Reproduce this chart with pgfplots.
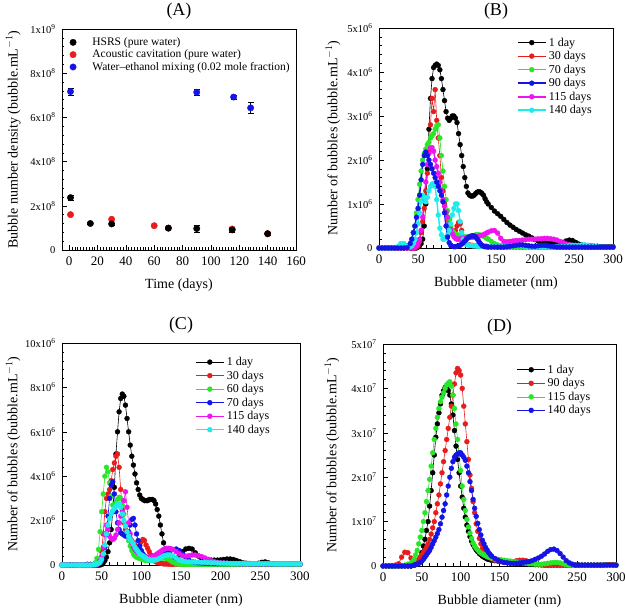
\documentclass[border=0pt]{standalone}
\usepackage{fontspec}
\setmainfont{Liberation Serif}
\usepackage{pgfplots}
\usepackage{pgfplotstable}
\pgfplotsset{compat=1.18}
\definecolor{cK}{RGB}{0,0,0}
\definecolor{cR}{RGB}{232,28,28}
\definecolor{cG}{RGB}{40,230,40}
\definecolor{cB}{RGB}{20,20,230}
\definecolor{cM}{RGB}{238,20,238}
\definecolor{cC}{RGB}{30,235,235}
\pgfplotsset{
 myaxis/.style={
  scale only axis,
  tick align=inside,
  xtick pos=bottom, ytick pos=left,
  major tick length=5pt, minor tick length=2.5pt,
  every tick/.style={black, line width=0.5pt},
  axis line style={line width=0.6pt},
  xticklabel style={font=\fontsize{13}{15}\selectfont, yshift=-3pt},
  yticklabel style={font=\fontsize{10.5}{12}\selectfont, xshift=-3pt},
  label style={font=\fontsize{14}{16}\selectfont},
  every axis title/.style={at={(0.5,1)}, anchor=base, yshift=13pt, font=\fontsize{18}{20}\selectfont},
  xlabel style={at={(axis description cs:0.5,0)}, anchor=base, yshift=-39pt},
  /pgf/number format/assume math mode=true,
  legend cell align=left,
  legend style={draw=none, fill=none, font=\fontsize{12}{13}\selectfont, row sep=-0.3pt},
 },
 ser/.style={color=#1, mark=*, mark size=2.5pt, line width=0.6pt, mark options={fill=#1, draw=#1, line width=0.3pt}},
 legline/.style={legend image code/.code={\draw[mark repeat=2,mark phase=2,##1] plot coordinates {(0cm,0cm) (0.5cm,0cm) (1cm,0cm)};}},
 legdot/.style={legend image code/.code={\path (0cm,0cm) (0.7cm,0cm); \draw[##1] plot coordinates {(0.1cm,0cm)};}},
}
\pgfplotstableread{
x k r g b m c
0 0 0 0 0 0 0
4 0 0 0 0 0 0
8 0 0 0 0 0 0
12 0 0 0 0 0 0
16 0 0 0 0 0 0
20 0 0 0 0 0 0.01
24 0 0 0 0 0 0.03
28 0 0 0 0 0 0.1
32 0 0 0 0 0 0.1
36 0 0 0.01 0.01 0 0.05
40 0 0 0.1 0.1 0 0.03
42 0 0 0.2 0.2 0 0.05
44 0 0 0.35 0.35 0 0.1
46 0 0 0.5 0.5 0.02 0.2
48 0 0.02 0.8 0.7 0.05 0.35
50 0.02 0.05 1.1 0.9 0.1 0.55
52 0.05 0.15 1.45 1.2 0.2 0.8
54 0.1 0.35 1.75 1.55 0.4 1.05
56 0.2 0.6 2.0 1.9 0.7 1.2
58 0.5 0.9 2.15 2.1 1.1 1.15
60 1.0 1.3 2.25 2.18 1.5 1.05
62 1.8 1.7 2.35 2.1 1.9 1.15
64 2.7 2.2 2.4 2.0 2.15 1.3
66 3.4 2.8 2.5 1.9 2.27 1.4
68 3.85 3.4 2.55 1.8 2.28 1.45
70 4.1 3.1 2.6 1.7 2.2 1.47
72 4.15 3.6 2.7 1.6 2.0 1.4
74 4.18 2.9 2.78 1.5 1.85 1.1
76 4.15 2.5 2.8 1.4 1.7 0.75
78 4.05 2.1 2.5 1.3 1.5 0.45
80 3.85 1.6 2.1 1.2 1.3 0.3
82 3.6 1.3 1.75 1.05 1.1 0.2
84 3.35 1.0 1.4 0.8 0.95 0.2
86 3.1 0.8 1.1 0.5 0.82 0.25
88 2.95 0.65 0.85 0.25 0.7 0.3
90 2.9 0.55 0.65 0.12 0.55 0.4
92 2.95 0.45 0.5 0.06 0.42 0.55
94 3.0 0.4 0.4 0.04 0.32 0.75
96 3.0 0.35 0.35 0.03 0.26 0.9
98 2.95 0.4 0.3 0.03 0.22 1.0
100 2.85 0.5 0.3 0.04 0.2 1.0
102 2.6 0.58 0.29 0.05 0.2 0.85
104 2.35 0.55 0.28 0.06 0.2 0.6
106 2.1 0.4 0.27 0.09 0.21 0.35
108 1.85 0.25 0.25 0.12 0.22 0.2
110 1.6 0.15 0.25 0.16 0.22 0.12
112 1.4 0.1 0.25 0.2 0.23 0.08
114 1.25 0.08 0.25 0.23 0.23 0.07
116 1.2 0.07 0.25 0.26 0.24 0.06
118 1.18 0.06 0.26 0.27 0.24 0.06
120 1.18 0.06 0.27 0.28 0.25 0.05
122 1.2 0.05 0.28 0.27 0.25 0.05
124 1.24 0.05 0.3 0.25 0.26 0.05
126 1.27 0.05 0.3 0.2 0.26 0.04
128 1.28 0.05 0.3 0.15 0.27 0.04
130 1.27 0.05 0.29 0.1 0.28 0.04
132 1.24 0.04 0.28 0.06 0.29 0.04
134 1.2 0.04 0.27 0.04 0.3 0.03
136 1.12 0.04 0.25 0.03 0.32 0.03
138 1.05 0.04 0.22 0.03 0.34 0.03
140 1.0 0.03 0.2 0.02 0.36 0.03
144 0.92 0.03 0.15 0.02 0.39 0.03
148 0.84 0.03 0.1 0.02 0.4 0.03
152 0.78 0.02 0.07 0.02 0.34 0.03
156 0.72 0.02 0.05 0.02 0.22 0.03
160 0.65 0.02 0.04 0.02 0.15 0.03
164 0.58 0.02 0.03 0.03 0.14 0.04
168 0.52 0.02 0.03 0.04 0.15 0.04
172 0.47 0.02 0.03 0.05 0.16 0.05
176 0.42 0.02 0.03 0.06 0.17 0.05
180 0.38 0.02 0.03 0.07 0.17 0.06
184 0.34 0.02 0.03 0.07 0.18 0.05
188 0.3 0.02 0.03 0.06 0.19 0.04
192 0.27 0.02 0.03 0.05 0.2 0.04
196 0.23 0.02 0.02 0.04 0.2 0.03
200 0.19 0.02 0.02 0.04 0.2 0.03
204 0.16 0.02 0.02 0.05 0.21 0.03
208 0.13 0.02 0.02 0.06 0.21 0.03
212 0.12 0.02 0.02 0.06 0.22 0.03
216 0.11 0.02 0.02 0.05 0.22 0.03
220 0.1 0.02 0.02 0.04 0.21 0.03
224 0.1 0.02 0.02 0.03 0.2 0.03
228 0.1 0.02 0.02 0.02 0.18 0.03
232 0.11 0.02 0.02 0.02 0.15 0.03
236 0.13 0.02 0.02 0.02 0.12 0.03
240 0.16 0.02 0.02 0.02 0.09 0.04
244 0.18 0.02 0.02 0.02 0.07 0.05
248 0.17 0.02 0.02 0.02 0.05 0.06
252 0.13 0.02 0.02 0.02 0.04 0.06
256 0.09 0.02 0.02 0.02 0.03 0.06
260 0.07 0.02 0.02 0.02 0.03 0.07
264 0.06 0.02 0.02 0.02 0.02 0.07
268 0.05 0.02 0.02 0.02 0.02 0.06
272 0.05 0.02 0.02 0.02 0.02 0.05
276 0.04 0.02 0.02 0.02 0.02 0.04
280 0.04 0.02 0.02 0.02 0.02 0.03
284 0.03 0.02 0.02 0.02 0.02 0.02
288 0.03 0.02 0.02 0.02 0.02 0.02
292 0.03 0.02 0.02 0.02 0.02 0.02
296 0.03 0.02 0.02 0.02 0.02 0.02
300 0.03 0.02 0.02 0.02 0.02 0.02
}\tabB
\pgfplotstableread{
x k r g b m c
0 0 0 0 0 0 0
4 0 0 0 0 0 0
8 0 0 0 0 0 0
12 0 0 0 0 0 0
16 0 0 0 0 0 0
20 0 0 0 0 0 0
24 0 0 0 0 0 0
28 0 0 0 0 0 0
32 0.03 0 0 0 0 0
36 0.03 0 0 0 0 0
40 0 0 0.02 0 0 0.02
42 0 0 0.1 0 0 0.03
44 0 0.02 0.3 0.02 0.02 0.05
46 0 0.05 0.7 0.05 0.08 0.08
48 0 0.2 1.5 0.1 0.2 0.12
50 0.02 0.6 2.4 0.2 0.4 0.25
52 0.1 1.4 3.2 0.4 0.8 0.5
54 0.2 2.4 4.0 0.8 1.4 0.9
56 0.35 3.0 4.4 1.4 1.8 1.4
58 0.6 3.2 4.2 2.2 1.6 1.8
60 1.0 3.4 3.7 3.0 1.3 2.1
62 1.6 3.8 3.1 3.6 1.2 2.3
64 2.4 4.3 2.7 3.75 1.15 2.45
66 3.5 4.6 2.6 3.2 1.2 2.55
68 5.0 4.9 2.8 2.4 1.35 2.65
70 6.0 5.0 2.95 1.9 1.6 2.75
72 6.9 4.4 3.05 1.6 1.9 2.75
74 7.5 3.4 3.0 1.45 2.2 2.6
76 7.7 2.5 2.7 1.4 2.4 2.3
78 7.6 1.9 2.3 1.35 2.9 2.0
80 7.2 1.6 1.8 1.3 3.3 1.75
82 6.6 1.4 1.4 1.35 2.6 1.5
84 6.0 1.3 1.1 1.5 1.9 1.3
86 5.4 1.2 0.85 1.8 1.4 1.15
88 4.9 1.1 0.65 2.05 1.0 1.05
90 4.5 1.0 0.5 2.1 0.8 0.95
92 4.1 0.9 0.4 1.8 0.7 0.8
94 3.7 0.8 0.35 1.4 0.62 0.7
96 3.4 0.8 0.32 1.1 0.55 0.6
98 3.15 0.9 0.3 0.85 0.5 0.5
100 3.0 1.05 0.27 0.65 0.45 0.45
102 2.95 1.15 0.25 0.5 0.42 0.4
104 2.9 1.1 0.22 0.4 0.38 0.35
106 2.9 0.9 0.2 0.35 0.36 0.3
108 2.9 0.75 0.2 0.3 0.35 0.25
110 2.95 0.6 0.21 0.29 0.35 0.23
112 2.95 0.45 0.22 0.28 0.35 0.22
114 2.95 0.3 0.23 0.29 0.37 0.22
116 2.9 0.2 0.24 0.3 0.4 0.22
118 2.75 0.15 0.26 0.32 0.45 0.23
120 2.5 0.12 0.27 0.35 0.5 0.25
122 2.2 0.1 0.29 0.38 0.55 0.28
124 1.8 0.08 0.3 0.42 0.6 0.32
126 1.4 0.07 0.31 0.46 0.65 0.36
128 1.0 0.05 0.32 0.5 0.7 0.4
130 0.65 0.05 0.31 0.54 0.73 0.43
132 0.4 0.05 0.3 0.58 0.75 0.45
134 0.25 0.04 0.26 0.62 0.75 0.45
136 0.2 0.04 0.22 0.65 0.75 0.45
138 0.2 0.04 0.17 0.68 0.72 0.43
140 0.2 0.03 0.12 0.7 0.7 0.4
144 0.3 0.03 0.06 0.72 0.6 0.3
148 0.45 0.03 0.03 0.65 0.5 0.22
152 0.6 0.03 0.02 0.5 0.42 0.17
156 0.72 0.03 0.02 0.35 0.4 0.15
160 0.75 0.03 0.02 0.22 0.42 0.14
164 0.72 0.03 0.02 0.15 0.45 0.14
168 0.55 0.03 0.02 0.12 0.45 0.13
172 0.4 0.03 0.02 0.1 0.42 0.13
176 0.3 0.03 0.02 0.09 0.38 0.12
180 0.25 0.03 0.02 0.08 0.32 0.12
184 0.22 0.03 0.02 0.07 0.26 0.11
188 0.22 0.03 0.02 0.07 0.2 0.1
192 0.22 0.03 0.02 0.06 0.15 0.1
196 0.22 0.03 0.02 0.06 0.12 0.09
200 0.23 0.03 0.02 0.06 0.1 0.08
204 0.25 0.03 0.02 0.06 0.09 0.08
208 0.27 0.03 0.02 0.06 0.08 0.08
212 0.27 0.03 0.02 0.06 0.07 0.07
216 0.25 0.03 0.02 0.06 0.06 0.07
220 0.2 0.03 0.02 0.06 0.06 0.07
224 0.15 0.03 0.02 0.06 0.05 0.07
228 0.1 0.03 0.02 0.06 0.05 0.07
232 0.08 0.03 0.02 0.06 0.05 0.06
236 0.07 0.03 0.02 0.05 0.05 0.06
240 0.06 0.03 0.02 0.05 0.05 0.06
244 0.06 0.03 0.02 0.05 0.05 0.06
248 0.08 0.03 0.02 0.05 0.05 0.06
252 0.12 0.03 0.02 0.05 0.05 0.06
256 0.14 0.03 0.02 0.05 0.05 0.06
260 0.1 0.03 0.02 0.05 0.05 0.06
264 0.06 0.03 0.02 0.05 0.05 0.06
268 0.04 0.03 0.02 0.05 0.05 0.05
272 0.03 0.03 0.02 0.05 0.05 0.05
276 0.03 0.03 0.02 0.05 0.05 0.05
280 0.03 0.03 0.02 0.05 0.05 0.05
284 0.03 0.03 0.02 0.05 0.05 0.05
288 0.03 0.03 0.02 0.05 0.05 0.05
292 0.03 0.03 0.02 0.05 0.05 0.05
296 0.03 0.03 0.02 0.05 0.05 0.05
300 0.03 0.03 0.02 0.05 0.05 0.05
}\tabC
\pgfplotstableread{
x k r g b
0 0 0 0 0
4 0 0 0 0
8 0 0 0 0
12 0 0 0 0
16 0 0.02 0 0
20 0 0.05 0 0
24 0 0.2 0 0
28 0 0.31 0.02 0
32 0 0.3 0.04 0
36 0 0.18 0.07 0
40 0.02 0.1 0.15 0.02
42 0.03 0.1 0.25 0.03
44 0.05 0.12 0.35 0.04
46 0.1 0.15 0.5 0.06
48 0.15 0.2 0.65 0.08
50 0.3 0.25 0.8 0.11
52 0.45 0.3 1.0 0.15
54 0.6 0.35 1.2 0.2
56 0.8 0.42 1.45 0.25
58 1.0 0.5 1.7 0.3
60 1.35 0.6 1.95 0.35
62 1.7 0.72 2.25 0.42
64 2.1 0.86 2.55 0.5
66 2.5 1.0 2.85 0.57
68 2.9 1.2 3.1 0.65
70 3.2 1.4 3.35 0.73
72 3.45 1.6 3.55 0.82
74 3.65 1.85 3.7 0.95
76 3.85 2.1 3.8 1.1
78 3.95 2.35 3.9 1.25
80 4.02 2.6 4.0 1.4
82 4.0 2.85 4.08 1.6
84 3.95 3.1 4.12 1.8
86 3.85 3.35 4.15 2.0
88 3.65 3.6 4.05 2.2
90 3.4 3.85 3.85 2.35
92 3.05 4.1 3.55 2.45
94 2.7 4.35 3.2 2.5
96 2.4 4.45 2.85 2.52
98 2.1 4.4 2.5 2.55
100 1.8 4.3 2.15 2.55
102 1.55 4.0 1.8 2.5
104 1.3 3.6 1.5 2.45
106 1.1 3.2 1.25 2.38
108 0.92 2.8 1.05 2.25
110 0.78 2.4 0.88 2.1
112 0.66 2.05 0.74 1.9
114 0.56 1.75 0.62 1.7
116 0.48 1.45 0.52 1.5
118 0.42 1.2 0.45 1.3
120 0.36 0.95 0.4 1.12
122 0.32 0.78 0.36 0.96
124 0.28 0.62 0.32 0.82
126 0.25 0.5 0.29 0.7
128 0.22 0.4 0.27 0.58
130 0.2 0.33 0.25 0.5
132 0.18 0.28 0.23 0.42
134 0.16 0.24 0.21 0.36
136 0.15 0.2 0.2 0.3
138 0.14 0.18 0.19 0.26
140 0.13 0.16 0.18 0.22
144 0.12 0.13 0.16 0.17
148 0.11 0.12 0.15 0.13
152 0.1 0.1 0.14 0.1
156 0.09 0.08 0.13 0.08
160 0.08 0.08 0.12 0.07
164 0.07 0.09 0.11 0.06
168 0.07 0.1 0.1 0.06
172 0.06 0.12 0.09 0.06
176 0.06 0.13 0.08 0.07
180 0.05 0.13 0.07 0.08
184 0.05 0.12 0.06 0.09
188 0.04 0.1 0.05 0.1
192 0.04 0.07 0.05 0.12
196 0.03 0.05 0.04 0.15
200 0.03 0.03 0.04 0.18
204 0.03 0.02 0.04 0.22
208 0.02 0.02 0.05 0.27
212 0.02 0.02 0.06 0.33
216 0.02 0.02 0.07 0.37
220 0.02 0.02 0.08 0.38
224 0.02 0.02 0.08 0.35
228 0.02 0.02 0.07 0.28
232 0.02 0.02 0.05 0.2
236 0.02 0.02 0.03 0.12
240 0.02 0.02 0.02 0.07
244 0.02 0.02 0.02 0.04
248 0.02 0.02 0.02 0.02
252 0.02 0.02 0.02 0.02
256 0.02 0.02 0.02 0.02
260 0.02 0.02 0.02 0.02
264 0.02 0.02 0.02 0.02
268 0.02 0.02 0.02 0.02
272 0.02 0.02 0.02 0.02
276 0.02 0.02 0.02 0.02
280 0.02 0.02 0.02 0.02
284 0.02 0.02 0.02 0.02
288 0.03 0.03 0.02 0.02
292 0.03 0.03 0.02 0.02
296 0.03 0.03 0.02 0.02
300 0.02 0.02 0.02 0.02
}\tabD
\begin{document}
\begin{tikzpicture}
\useasboundingbox (0,0) rectangle (625pt,611pt);
% ---------- (A)
\begin{axis}[myaxis,
  at={(62pt,361pt)}, anchor=south west, width=234pt, height=221pt,
  title={(A)},
  xmin=-5, xmax=160, ymin=0, ymax=10,
  xtick={0,20,...,160}, minor x tick num=9,
  ytick={0,2,4,6,8,10}, minor y tick num=4,
  yticklabels={0,2x10\textsuperscript{8},4x10\textsuperscript{8},6x10\textsuperscript{8},8x10\textsuperscript{8},1x10\textsuperscript{9}},
  xlabel={Time (days)},
  ylabel={Bubble number density (bubble.mL$^{-1}$)},
  ylabel style={at={(axis description cs:-0.19,0.5)}, anchor=base},
  legend style={at={(0.02,0.98)}, anchor=north west, font=\fontsize{11.5}{12.5}\selectfont, row sep=-1.2pt},
  legdot,
  error bars/error bar style={black, line width=0.6pt},
]
\addlegendimage{only marks, mark=*, mark size=3.2pt, color=cK}
\addlegendentry{HSRS (pure water)}
\addlegendimage{only marks, mark=*, mark size=3.2pt, color=cR}
\addlegendentry{Acoustic cavitation (pure water)}
\addlegendimage{only marks, mark=*, mark size=3.2pt, color=cB}
\addlegendentry{Water--ethanol mixing (0.02 mole fraction)}
\addplot[forget plot, only marks, mark=*, mark size=3.2pt, color=cR] coordinates {(1,1.6) (30,1.39) (60,1.1) (70,0.99) (115,0.95) (140,0.73)};
\addplot[forget plot, only marks, mark=*, mark size=3.2pt, color=cK,
  error bars/.cd, y dir=both, y explicit, error mark options={rotate=90, mark size=3pt, black}]
  coordinates {(1,2.37) +- (0,0.1) (15,1.2) +- (0,0.05) (30,1.18) +- (0,0.05) (70,0.99) +- (0,0.05) (90,0.97) +- (0,0.15) (115,0.91) +- (0,0.12) (140,0.74) +- (0,0.05)};
\addplot[forget plot, only marks, mark=*, mark size=3.2pt, color=cB,
  error bars/.cd, y dir=both, y explicit, error mark options={rotate=90, mark size=3pt, black}]
  coordinates {(1,7.17) +- (0,0.15) (90,7.14) +- (0,0.15) (116,6.92) +- (0,0.1) (128,6.43) +- (0,0.25)};
\end{axis}
% ---------- (B)
\begin{axis}[myaxis,
  at={(379pt,363pt)}, anchor=south west, width=234pt, height=220pt,
  title={(B)},
  xmin=0, xmax=300, ymin=0, ymax=5,
  xtick={0,50,...,300}, minor x tick num=4,
  ytick={0,1,2,3,4,5}, minor y tick num=4,
  yticklabels={0,1x10\textsuperscript{6},2x10\textsuperscript{6},3x10\textsuperscript{6},4x10\textsuperscript{6},5x10\textsuperscript{6}},
  xlabel={Bubble diameter (nm)},
  ylabel={Number of bubbles (bubble.mL$^{-1}$)},
  ylabel style={at={(axis description cs:-0.178,0.5)}, anchor=base},
  legend style={at={(0.575,0.975)}, anchor=north west},
  legline,
]
\addlegendimage{ser=cK}\addlegendentry{1 day}
\addlegendimage{ser=cR}\addlegendentry{30 days}
\addlegendimage{ser=cG}\addlegendentry{70 days}
\addlegendimage{ser=cB, line width=1.6pt}\addlegendentry{90 days}
\addlegendimage{ser=cM, line width=1.6pt}\addlegendentry{115 days}
\addlegendimage{ser=cC, line width=1.6pt}\addlegendentry{140 days}
\addplot[forget plot, ser=cK] table[x=x,y=k]{\tabB};
\addplot[forget plot, ser=cR] table[x=x,y=r]{\tabB};
\addplot[forget plot, ser=cG] table[x=x,y=g]{\tabB};
\addplot[forget plot, ser=cM, line width=1.4pt] table[x=x,y=m]{\tabB};
\addplot[forget plot, ser=cC, line width=1.4pt] table[x=x,y=c]{\tabB};
\addplot[forget plot, ser=cB, line width=1.6pt] table[x=x,y=b]{\tabB};
\end{axis}
% ---------- (C)
\begin{axis}[myaxis,
  at={(62pt,46pt)}, anchor=south west, width=238pt, height=222pt,
  title={(C)},
  xmin=0, xmax=300, ymin=0, ymax=10,
  xtick={0,50,...,300}, minor x tick num=4,
  ytick={0,2,4,6,8,10}, minor y tick num=4,
  yticklabels={0,2x10\textsuperscript{6},4x10\textsuperscript{6},6x10\textsuperscript{6},8x10\textsuperscript{6},10x10\textsuperscript{6}},
  xlabel={Bubble diameter (nm)},
  ylabel={Number of bubbles (bubble.mL$^{-1}$)},
  ylabel style={at={(axis description cs:-0.187,0.5)}, anchor=base},
  legend style={at={(0.545,0.955)}, anchor=north west},
  legline,
]
\addplot[ser=cK] table[x=x,y=k]{\tabC}; \addlegendentry{1 day}
\addplot[ser=cR] table[x=x,y=r]{\tabC}; \addlegendentry{30 days}
\addplot[ser=cG] table[x=x,y=g]{\tabC}; \addlegendentry{60 days}
\addplot[ser=cB] table[x=x,y=b]{\tabC}; \addlegendentry{70 days}
\addplot[ser=cM] table[x=x,y=m]{\tabC}; \addlegendentry{115 days}
\addplot[ser=cC, line width=1.4pt] table[x=x,y=c]{\tabC}; \addlegendentry{140 days}
\end{axis}
% ---------- (D)
\begin{axis}[myaxis,
  at={(383pt,45pt)}, anchor=south west, width=233pt, height=222pt,
  title={(D)},
  xmin=0, xmax=300, ymin=0, ymax=5,
  xtick={0,50,...,300}, minor x tick num=4,
  ytick={0,1,2,3,4,5}, minor y tick num=4,
  yticklabels={0,1x10\textsuperscript{7},2x10\textsuperscript{7},3x10\textsuperscript{7},4x10\textsuperscript{7},5x10\textsuperscript{7}},
  xlabel={Bubble diameter (nm)},
  ylabel={Number of bubbles (bubble.mL$^{-1}$)},
  ylabel style={at={(axis description cs:-0.2,0.5)}, anchor=base},
  legend style={at={(0.56,0.925)}, anchor=north west},
  legline,
]
\addplot[ser=cK] table[x=x,y=k]{\tabD}; \addlegendentry{1 day}
\addplot[ser=cR] table[x=x,y=r]{\tabD}; \addlegendentry{90 days}
\addplot[ser=cG] table[x=x,y=g]{\tabD}; \addlegendentry{115 days}
\addplot[ser=cB] table[x=x,y=b]{\tabD}; \addlegendentry{140 days}
\end{axis}
\end{tikzpicture}
\end{document}
